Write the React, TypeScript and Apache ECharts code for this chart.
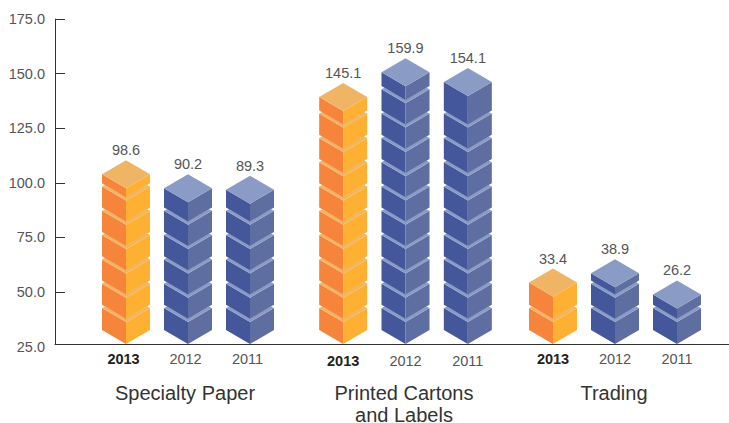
import React, { useEffect, useRef } from "react";
import * as echarts from "echarts";

// Revenue by business line, in three blocks of three years.
const years = ["2013", "2012", "2011"];
const specialtyPaper = [98.6, 90.2, 89.3];
const printedCartons = [145.1, 159.9, 154.1];
const trading = [33.4, 38.9, 26.2];
const groupNames = ["Specialty Paper", "Printed Cartons\nand Labels", "Trading"];
const axisTicks = [50, 75, 100, 125, 150, 175];

const orange = { left: "#f6843a", right: "#fdb031", top: "#efb565" };
const blue = { left: "#44579b", right: "#5f6ea0", top: "#8a9cc6" };

// Isometric column geometry, in pixels.
const HALF_W = 24;
const RISE = 14;
const PITCH = 24.3;
const GAP = 3.2;
const FOOT = 8; // lowest corner of a column sits this far above the zero line
const FIRST_CUBE = 22;
const MIN_SLAB = 9; // a remainder shorter than this is absorbed by the cube below

function side(cx: number, top: number, bottom: number, dir: number, fill: string) {
  const edge = cx + dir * HALF_W;
  return {
    type: "polygon",
    shape: { points: [[edge, top], [cx, top + RISE], [cx, bottom + RISE], [edge, bottom]] },
    style: { fill },
  };
}

function renderColumn(params: any, api: any) {
  const palette = params.dataIndex === 0 ? orange : blue;
  const value = api.value(1);
  const [cx, topY] = api.coord([api.value(0), value]);
  const zeroY = api.coord([api.value(0), 0])[1];
  const baseY = zeroY - FOOT;

  // Seams between cubes, bottom to top; anything above topY is left out.
  const seams: number[] = [];
  for (let y = baseY - FIRST_CUBE; y - topY > MIN_SLAB; y -= PITCH) seams.push(y);

  const children: any[] = [];
  let lower = baseY;
  for (const seam of seams) {
    children.push(side(cx, seam, lower, -1, palette.left), side(cx, seam, lower, 1, palette.right));
    // Lighter sliver of the cube's top face; the next cube up overlaps its inner edge.
    children.push({
      type: "polygon",
      shape: {
        points: [
          [cx - HALF_W, seam],
          [cx, seam + RISE],
          [cx + HALF_W, seam],
          [cx + HALF_W - 3, seam - 1.6],
          [cx, seam + RISE - GAP - 0.5],
          [cx - HALF_W + 3, seam - 1.6],
        ],
      },
      style: { fill: palette.top },
    });
    lower = seam - GAP;
  }
  children.push(side(cx, topY, lower, -1, palette.left), side(cx, topY, lower, 1, palette.right));
  children.push({
    type: "polygon",
    shape: {
      points: [[cx - HALF_W, topY], [cx, topY - RISE], [cx + HALF_W, topY], [cx, topY + RISE]],
    },
    style: { fill: palette.top },
  });
  children.push({
    type: "text",
    style: {
      text: value.toFixed(1),
      x: cx,
      y: topY - RISE - 10,
      align: "center",
      verticalAlign: "middle",
      fill: "#555",
      fontSize: 14.5,
      fontFamily: "Liberation Sans",
    },
  });
  return { type: "group", children };
}

const groups = [specialtyPaper, printedCartons, trading];
const groupLeft = [95, 312, 522];
const groupWidth = [186, 187, 186];
const yearMargin = [13, 15, 13];
const yearNudge = [5, 0, 0];
const nameNudge = [6, 3, 2];

function buildOption() {
  const font = "Liberation Sans";
  const line = { lineStyle: { color: "#333", width: 1 } };
  return {
    animation: false,
    grid: [
      { left: 55, right: 0, top: 19, height: 325, outerBoundsMode: "none" },
      { left: 55, right: 0, top: 19, height: 327.6, outerBoundsMode: "none" },
      ...groups.map((_, i) => ({
        left: groupLeft[i],
        width: groupWidth[i],
        top: 19,
        height: 319,
        outerBoundsMode: "none",
      })),
    ],
    xAxis: [
      {
        gridIndex: 0,
        type: "value",
        min: 0,
        max: 1,
        axisLine: { show: true, onZero: false, ...line },
        axisTick: { show: false },
        axisLabel: { show: false },
        splitLine: { show: false },
      },
      { gridIndex: 1, type: "value", show: false },
      ...groups.map((_, i) => ({
        gridIndex: i + 2,
        type: "category",
        data: years,
        axisLine: { show: false },
        axisTick: { show: false },
        axisLabel: {
          interval: 0,
          margin: yearMargin[i],
          padding: [0, yearNudge[i], 0, 0],
          fontSize: 14.5,
          fontFamily: font,
          color: "#555",
          formatter: (v: string, idx: number) => (idx === 0 ? `{bold|${v}}` : v),
          rich: {
            bold: { fontSize: 14.5, fontFamily: font, fontWeight: "bold", color: "#222" },
          },
        },
        name: groupNames[i],
        nameLocation: "middle",
        nameGap: 44,
        nameTextStyle: {
          fontSize: 20,
          fontFamily: font,
          color: "#333",
          lineHeight: 22,
          verticalAlign: "top",
          padding: [0, nameNudge[i], 0, 0],
        },
      })),
    ],
    yAxis: [
      {
        gridIndex: 0,
        type: "value",
        min: 0,
        max: 1,
        axisLine: { show: true, onZero: false, ...line },
        axisTick: { show: false },
        axisLabel: { show: false },
        splitLine: { show: false },
      },
      {
        gridIndex: 1,
        type: "value",
        min: 25,
        max: 175,
        interval: 25,
        axisLine: { show: false },
        axisTick: { show: true, inside: true, length: 10, customValues: axisTicks, ...line },
        axisLabel: {
          margin: 10,
          fontSize: 14.5,
          fontFamily: font,
          color: "#555",
          formatter: (v: number) => v.toFixed(1),
        },
        splitLine: { show: false },
      },
      ...groups.map((_, i) => ({
        gridIndex: i + 2,
        type: "value",
        min: 0,
        max: 192,
        show: false,
      })),
    ],
    series: groups.map((values, i) => ({
      type: "custom",
      xAxisIndex: i + 2,
      yAxisIndex: i + 2,
      coordinateSystem: "cartesian2d",
      clip: false,
      renderItem: renderColumn,
      encode: { x: 0, y: 1 },
      data: values.map((v, idx) => [idx, v]),
    })),
  };
}

export default function App() {
  const ref = useRef<HTMLDivElement>(null);
  useEffect(() => {
    const chart = echarts.init(ref.current!, undefined, { renderer: "svg" });
    chart.setOption(buildOption() as any);
    return () => chart.dispose();
  }, []);
  return (
    <div
      ref={ref}
      style={{ position: "fixed", left: 0, top: 0, width: 729, height: 423, background: "#fff" }}
    />
  );
}
